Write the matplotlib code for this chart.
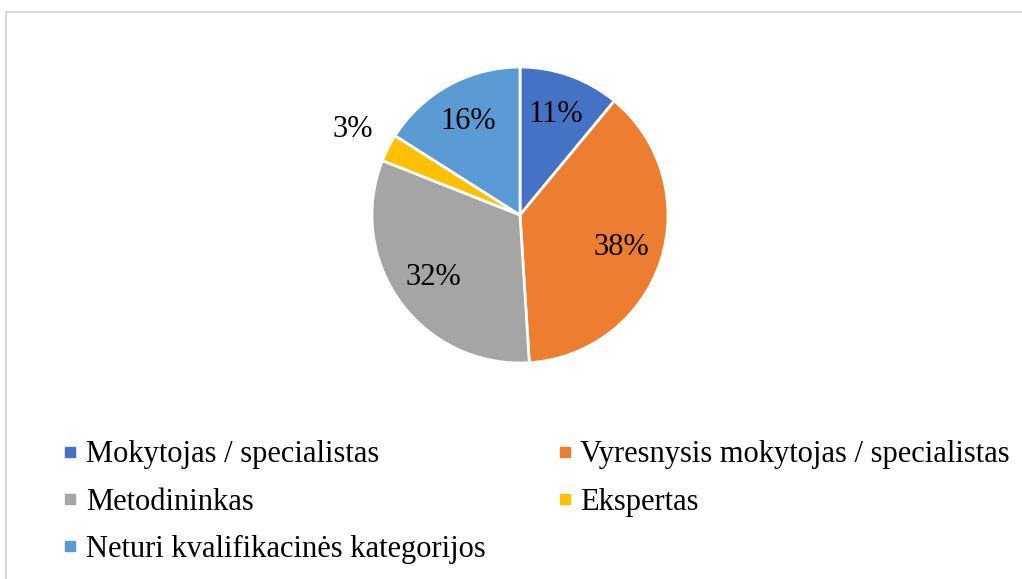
import matplotlib
matplotlib.use('Agg')
from matplotlib import pyplot as plt
from matplotlib.lines import Line2D
from matplotlib.patches import Rectangle
import numpy as np

plt.rcParams['font.family'] = ['Liberation Serif', 'DejaVu Serif']

categories = ['Mokytojas / specialistas', 'Vyresnysis mokytojas / specialistas',
              'Metodininkas', 'Ekspertas', 'Neturi kvalifikacinės kategorijos']
shares = [11, 38, 32, 3, 16]
colors = ['#4472C4', '#ED7D31', '#A5A5A5', '#FFC000', '#5B9BD5']

W, H = 1022, 579
fig = plt.figure(figsize=(W / 100, H / 100), dpi=100)

# light grey chart frame (right/bottom run off the picture)
fig.patches.append(Rectangle((6 / W, -0.05), 1.1, (H - 12) / H + 0.05,
                             transform=fig.transFigure, fill=False,
                             edgecolor='#D9D9D9', linewidth=1.5))

cx, cy, r = 520, 215, 148
ax = fig.add_axes([(cx - r) / W, (H - cy - r) / H, 2 * r / W, 2 * r / H])
wedges, texts, autotexts = ax.pie(
    shares, colors=colors, startangle=90, counterclock=False,
    autopct='%d%%', pctdistance=0.72,
    wedgeprops=dict(edgecolor='white', linewidth=2),
    textprops=dict(fontsize=22, color='black'))
ax.set_xlim(-1, 1)
ax.set_ylim(-1, 1)
ax.set_aspect('equal')

# small slice label goes outside
for w, t, v in zip(wedges, autotexts, shares):
    if v < 5:
        ang = np.deg2rad((w.theta1 + w.theta2) / 2)
        t.set_position((1.27 * np.cos(ang), 1.27 * np.sin(ang)))
        t.set_clip_on(False)

order = [0, 2, 4, 1, 3]
handles = [Line2D([], [], marker='s', linestyle='none', markersize=7,
                  markerfacecolor=colors[i], markeredgecolor=colors[i]) for i in order]
labels = [categories[i] for i in order]
fig.legend(handles, labels, ncol=2, loc='upper left',
           bbox_to_anchor=(46 / W, 1 - 425 / H), frameon=False,
           fontsize=22, handlelength=0.6, handletextpad=0.2,
           columnspacing=2.3, labelspacing=0.6, borderpad=0)

fig.savefig('out.png', dpi=100)
